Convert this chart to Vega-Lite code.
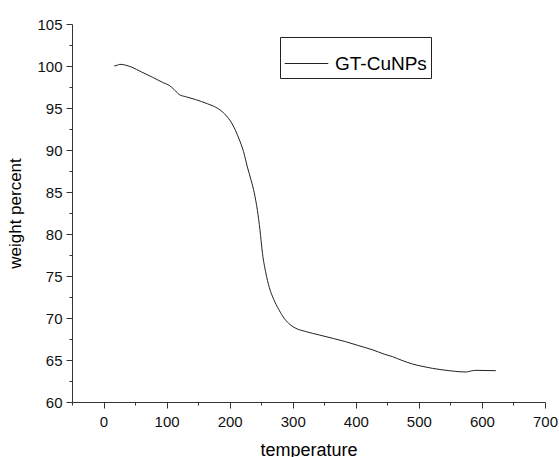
{
  "$schema": "https://vega.github.io/schema/vega-lite/v6.json",
  "autosize": {"type": "none"},
  "padding": {"left": 72, "top": 24, "right": 14, "bottom": 55},
  "width": 473,
  "height": 378,
  "background": "white",
  "config": {
    "view": {"stroke": null},
    "font": "Liberation Sans"
  },
  "data": {
    "values": [
      {"temperature": 17, "weight": 100.0},
      {"temperature": 22, "weight": 100.1},
      {"temperature": 26, "weight": 100.2},
      {"temperature": 35, "weight": 100.1},
      {"temperature": 45, "weight": 99.85},
      {"temperature": 60, "weight": 99.3},
      {"temperature": 78, "weight": 98.65},
      {"temperature": 95, "weight": 98.0},
      {"temperature": 104, "weight": 97.7},
      {"temperature": 112, "weight": 97.2},
      {"temperature": 120, "weight": 96.6},
      {"temperature": 130, "weight": 96.35},
      {"temperature": 146, "weight": 96.0},
      {"temperature": 165, "weight": 95.5},
      {"temperature": 180, "weight": 95.0},
      {"temperature": 192, "weight": 94.3},
      {"temperature": 204, "weight": 93.1},
      {"temperature": 215, "weight": 91.3},
      {"temperature": 222, "weight": 89.8},
      {"temperature": 228, "weight": 88.0},
      {"temperature": 234, "weight": 86.4},
      {"temperature": 239, "weight": 84.9},
      {"temperature": 244, "weight": 82.8},
      {"temperature": 248, "weight": 80.5},
      {"temperature": 252, "weight": 77.7},
      {"temperature": 257, "weight": 75.5},
      {"temperature": 263, "weight": 73.6},
      {"temperature": 270, "weight": 72.2},
      {"temperature": 278, "weight": 71.0},
      {"temperature": 287, "weight": 69.9},
      {"temperature": 296, "weight": 69.2},
      {"temperature": 305, "weight": 68.77},
      {"temperature": 320, "weight": 68.4},
      {"temperature": 342, "weight": 67.98},
      {"temperature": 365, "weight": 67.55},
      {"temperature": 384, "weight": 67.18},
      {"temperature": 405, "weight": 66.7},
      {"temperature": 427, "weight": 66.2},
      {"temperature": 445, "weight": 65.7},
      {"temperature": 458, "weight": 65.4},
      {"temperature": 475, "weight": 64.9},
      {"temperature": 490, "weight": 64.52},
      {"temperature": 505, "weight": 64.25},
      {"temperature": 522, "weight": 64.0},
      {"temperature": 548, "weight": 63.73},
      {"temperature": 565, "weight": 63.6},
      {"temperature": 575, "weight": 63.57},
      {"temperature": 583, "weight": 63.7},
      {"temperature": 591, "weight": 63.77},
      {"temperature": 605, "weight": 63.75},
      {"temperature": 622, "weight": 63.73}
    ]
  },
  "mark": {"type": "line", "strokeWidth": 1, "interpolate": "monotone"},
  "encoding": {
    "x": {
      "field": "temperature",
      "type": "quantitative",
      "scale": {"domain": [-50, 700], "nice": false, "zero": false},
      "axis": {
        "title": "temperature",
        "values": [-50, 0, 50, 100, 150, 200, 250, 300, 350, 400, 450, 500, 550, 600, 650, 700],
        "labelExpr": "datum.value % 100 === 0 ? datum.label : ''",
        "grid": false,
        "domainColor": "#333333",
        "tickColor": "#333333",
        "tickSize": {"condition": {"test": "datum.value % 100 === 0", "value": 6}, "value": 3},
        "labelFontSize": 15,
        "labelColor": "#111111",
        "labelPadding": 6,
        "titleFontSize": 18,
        "titleFontWeight": "normal",
        "titleColor": "#000000",
        "titlePadding": 12,
        "labelFlush": false,
        "labelOverlap": false
      }
    },
    "y": {
      "field": "weight",
      "type": "quantitative",
      "scale": {"domain": [60, 105], "nice": false, "zero": false},
      "axis": {
        "title": "weight percent",
        "values": [60, 62.5, 65, 67.5, 70, 72.5, 75, 77.5, 80, 82.5, 85, 87.5, 90, 92.5, 95, 97.5, 100, 102.5, 105],
        "labelExpr": "datum.value % 5 === 0 ? datum.label : ''",
        "grid": false,
        "domainColor": "#333333",
        "tickColor": "#333333",
        "tickSize": {"condition": {"test": "datum.value % 5 === 0", "value": 6}, "value": 3},
        "labelFontSize": 15,
        "labelColor": "#111111",
        "labelPadding": 4,
        "titleFontSize": 17,
        "titleFontWeight": "normal",
        "titleColor": "#000000",
        "titlePadding": 12,
        "labelFlush": false,
        "labelOverlap": false
      }
    },
    "color": {
      "datum": "GT-CuNPs",
      "type": "nominal",
      "scale": {"range": ["#222222"]},
      "legend": {
        "title": null,
        "orient": "none",
        "legendX": 208,
        "legendY": 13,
        "symbolType": "stroke",
        "symbolSize": 1900,
        "symbolStrokeWidth": 1,
        "labelFontSize": 19,
        "labelColor": "#000000",
        "strokeColor": "#222222",
        "padding": 4,
        "labelOffset": 6,
        "fillColor": "white"
      }
    }
  }
}
